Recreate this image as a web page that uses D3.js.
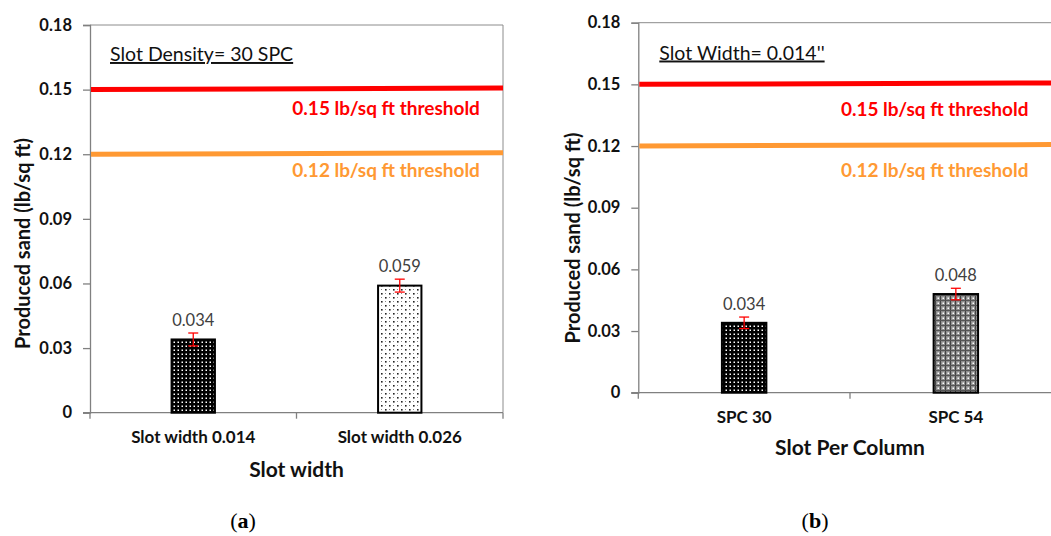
<!DOCTYPE html>
<html>
<head>
<meta charset="utf-8">
<script src="https://cdn.jsdelivr.net/npm/d3@7"></script>
<style>
  body { margin: 0; background: #fff; }
</style>
</head>
<body>
<div class="chart"></div>
<script>
// data
var yTicks = [0, 0.03, 0.06, 0.09, 0.12, 0.15, 0.18];
var thresholds = [0.15, 0.12];
var thresholdLabels = ["0.15 lb/sq ft threshold", "0.12 lb/sq ft threshold"];
var thresholdColors = ["#ff0000", "#ff9933"];

var widthCats = ["Slot width 0.014", "Slot width 0.026"];
var widthVals = [0.034, 0.059];
var widthErrs = [0.003, 0.003];

var spcCats = ["SPC 30", "SPC 54"];
var spcVals = [0.034, 0.048];
var spcErrs = [0.0028, 0.0028];

var svgWidth = 1051;
var svgHeight = 536;

var svg = d3.select(".chart")
  .append("svg")
  .attr("width", svgWidth)
  .attr("height", svgHeight)
  .attr("font-family", "Lato, 'Open Sans', sans-serif");

// bar fill patterns
var defs = svg.append("defs");

var pDark = defs.append("pattern").attr("id", "pDark")
  .attr("patternUnits", "userSpaceOnUse").attr("width", 4).attr("height", 4);
pDark.append("rect").attr("width", 4).attr("height", 4).attr("fill", "#000");
pDark.append("rect").attr("x", 1.5).attr("y", 1.5).attr("width", 1.5).attr("height", 1.5).attr("fill", "#fff");

var pLight = defs.append("pattern").attr("id", "pLight")
  .attr("patternUnits", "userSpaceOnUse").attr("width", 8).attr("height", 8);
pLight.append("rect").attr("width", 8).attr("height", 8).attr("fill", "#fff");
pLight.append("rect").attr("x", 1).attr("y", 1).attr("width", 1.6).attr("height", 1.6).attr("fill", "#222");
pLight.append("rect").attr("x", 5).attr("y", 5).attr("width", 1.6).attr("height", 1.6).attr("fill", "#222");
pLight.append("rect").attr("x", 5).attr("y", 1).attr("width", 1).attr("height", 1).attr("fill", "#888");
pLight.append("rect").attr("x", 1).attr("y", 5).attr("width", 1).attr("height", 1).attr("fill", "#888");

var pGray = defs.append("pattern").attr("id", "pGray")
  .attr("patternUnits", "userSpaceOnUse").attr("width", 5).attr("height", 5);
pGray.append("rect").attr("width", 5).attr("height", 5).attr("fill", "#8f8f8f");
pGray.append("rect").attr("width", 1).attr("height", 5).attr("fill", "#444");
pGray.append("rect").attr("width", 5).attr("height", 1).attr("fill", "#555");
pGray.append("rect").attr("x", 2.5).attr("y", 2.5).attr("width", 1.5).attr("height", 1.5).attr("fill", "#fff");

function drawPanel(cfg, cats, vals, errs) {
  var g = svg.append("g");

  var xScale = d3.scaleBand().domain(cats).range([cfg.left, cfg.right]).padding(0);
  var yScale = d3.scaleLinear().domain([0, 0.18]).range([cfg.bottom, cfg.top]);

  // plot frame (top + right)
  g.append("line")
    .attr("x1", cfg.left).attr("x2", cfg.right)
    .attr("y1", cfg.top).attr("y2", cfg.top)
    .attr("stroke", "#8c8c8c").attr("stroke-width", 1);
  g.append("line")
    .attr("x1", cfg.right).attr("x2", cfg.right)
    .attr("y1", cfg.top).attr("y2", cfg.bottom)
    .attr("stroke", "#8c8c8c").attr("stroke-width", 1);

  // y axis
  var leftAxis = d3.axisLeft(yScale)
    .tickValues(yTicks)
    .tickSize(7)
    .tickPadding(11)
    .tickFormat(d => d === 0 ? "0" : d3.format(".2f")(d));
  var yAxis = g.append("g").attr("transform", `translate(${cfg.left},0)`).call(leftAxis);
  yAxis.attr("font-family", null).attr("font-size", null);
  yAxis.select(".domain").attr("stroke", "#808080").attr("stroke-width", 1.3);
  yAxis.selectAll(".tick line").attr("stroke", "#808080").attr("stroke-width", 1.3);
  yAxis.selectAll(".tick text")
    .attr("font-size", 16.5)
    .attr("font-weight", "bold")
    .attr("fill", "#111");

  // x axis line and category boundary ticks
  g.append("line")
    .attr("x1", cfg.left - 7).attr("x2", cfg.right)
    .attr("y1", cfg.bottom).attr("y2", cfg.bottom)
    .attr("stroke", "#808080").attr("stroke-width", 1.3);
  var edges = cats.map(d => xScale(d)).concat([xScale(cats[cats.length - 1]) + xScale.bandwidth()]);
  g.selectAll(".xtick").data(edges).enter().append("line")
    .attr("x1", d => d).attr("x2", d => d)
    .attr("y1", cfg.bottom).attr("y2", cfg.bottom + 6)
    .attr("stroke", "#808080").attr("stroke-width", 1.3);

  var bottomAxis = d3.axisBottom(xScale).tickSize(0).tickPadding(cfg.tickPad);
  var xAxis = g.append("g").attr("transform", `translate(0,${cfg.bottom})`).call(bottomAxis);
  xAxis.attr("font-family", null).attr("font-size", null);
  xAxis.select(".domain").remove();
  xAxis.selectAll(".tick text")
    .attr("font-size", 17)
    .attr("font-weight", "bold")
    .attr("fill", "#111");

  // thresholds
  thresholds.forEach(function(t, i) {
    g.append("line")
      .attr("x1", cfg.left + 1).attr("x2", cfg.right)
      .attr("y1", yScale(t)).attr("y2", yScale(t) - 1.5)
      .attr("stroke", thresholdColors[i]).attr("stroke-width", 5);
    g.append("text")
      .attr("x", cfg.left + (cfg.right - cfg.left) * cfg.labelPos)
      .attr("y", yScale(t) + cfg.labelOff[i])
      .attr("text-anchor", "middle")
      .attr("font-size", 19)
      .attr("font-weight", "bold")
      .attr("fill", thresholdColors[i])
      .text(thresholdLabels[i]);
  });

  // bars
  var barW = xScale.bandwidth() * 0.21;
  g.selectAll(".bar").data(vals).enter().append("rect")
    .attr("x", (d, i) => xScale(cats[i]) + xScale.bandwidth() / 2 - barW / 2)
    .attr("y", d => yScale(d))
    .attr("width", barW)
    .attr("height", d => cfg.bottom - yScale(d))
    .attr("fill", (d, i) => "url(#" + cfg.fills[i] + ")")
    .attr("stroke", "#000")
    .attr("stroke-width", 2);

  // error bars
  vals.forEach(function(v, i) {
    var cx = xScale(cats[i]) + xScale.bandwidth() / 2;
    var y1 = yScale(v + errs[i]), y2 = yScale(v - errs[i]);
    g.append("line").attr("x1", cx).attr("x2", cx).attr("y1", y1).attr("y2", y2)
      .attr("stroke", "#ff0000").attr("stroke-width", 1.3);
    [y1, y2].forEach(function(yy) {
      g.append("line").attr("x1", cx - 5).attr("x2", cx + 5).attr("y1", yy).attr("y2", yy)
        .attr("stroke", "#ff0000").attr("stroke-width", 1.3);
    });
  });

  // value labels
  g.selectAll(".val").data(vals).enter().append("text")
    .attr("x", (d, i) => xScale(cats[i]) + xScale.bandwidth() / 2)
    .attr("y", (d, i) => yScale(d + errs[i]) - 7)
    .attr("text-anchor", "middle")
    .attr("font-size", 16.5)
    .attr("fill", "#404040")
    .text(d => d3.format(".3f")(d));

  // chart title (underlined)
  g.append("text")
    .attr("x", cfg.titleX).attr("y", cfg.titleY)
    .attr("font-size", 19.5)
    .attr("fill", "#111")
    .attr("text-decoration", "underline")
    .text(cfg.title);

  // axis titles
  g.append("text")
    .attr("transform", `translate(${cfg.yLabelX},${cfg.yLabelY}) rotate(-90)`)
    .attr("text-anchor", "middle")
    .attr("font-size", 20)
    .attr("font-weight", "bold")
    .attr("fill", "#111")
    .text("Produced sand (lb/sq ft)");

  g.append("text")
    .attr("x", (cfg.left + cfg.right) / 2)
    .attr("y", cfg.bottom + cfg.xTitleOff)
    .attr("text-anchor", "middle")
    .attr("font-size", 21)
    .attr("font-weight", "bold")
    .attr("fill", "#111")
    .text(cfg.xTitle);

  // panel tag
  var tag = g.append("text")
    .attr("x", cfg.tagX).attr("y", 528)
    .attr("text-anchor", "middle")
    .attr("font-family", "'Liberation Serif', 'DejaVu Serif', serif")
    .attr("font-size", 22)
    .attr("fill", "#000");
  tag.append("tspan").text("(");
  tag.append("tspan").attr("font-weight", "bold").text(cfg.tag);
  tag.append("tspan").text(")");
}

drawPanel({
  left: 90, right: 503, top: 25, bottom: 412.7,
  tickPad: 18.5, labelPos: 0.717, labelOff: [25, 23],
  fills: ["pDark", "pLight"],
  title: "Slot Density= 30 SPC", titleX: 110, titleY: 61,
  yLabelX: 30, yLabelY: 243.5,
  xTitle: "Slot width", xTitleOff: 64,
  tagX: 243, tag: "a"
}, widthCats, widthVals, widthErrs);

drawPanel({
  left: 638.3, right: 1061.7, top: 22.7, bottom: 392.7,
  tickPad: 18.5, labelPos: 0.70, labelOff: [32, 31],
  fills: ["pDark", "pGray"],
  title: "Slot Width= 0.014''", titleX: 659.3, titleY: 59.5,
  yLabelX: 580, yLabelY: 238,
  xTitle: "Slot Per Column", xTitleOff: 62,
  tagX: 815, tag: "b"
}, spcCats, spcVals, spcErrs);
</script>
</body>
</html>
